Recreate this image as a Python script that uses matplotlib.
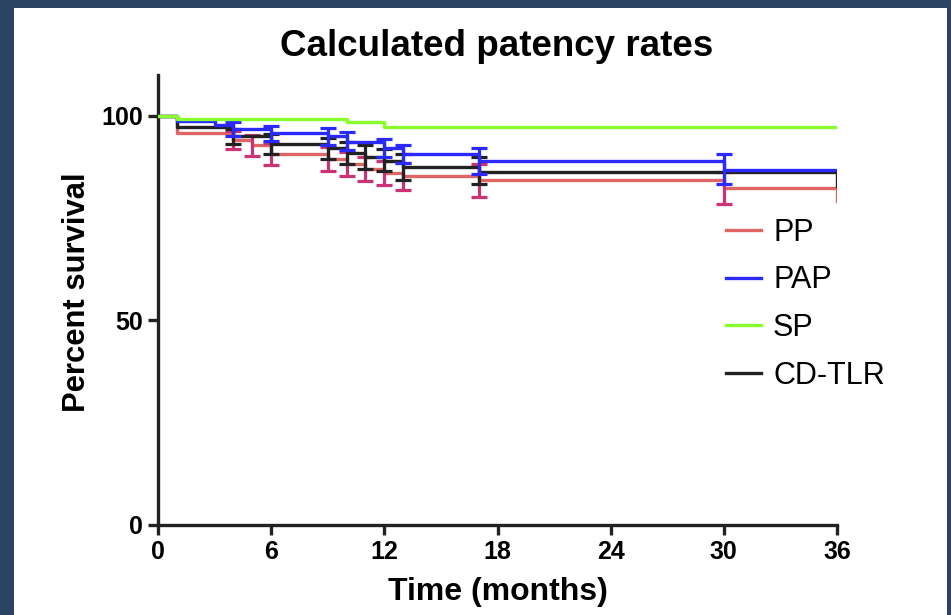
import matplotlib
matplotlib.use("Agg")
import matplotlib.pyplot as plt
from matplotlib.patches import Rectangle
from matplotlib.lines import Line2D

plt.rcParams["font.family"] = ["Liberation Sans", "DejaVu Sans"]

# ---- data ----
pp_t = [0, 1, 4, 5, 6, 9, 10, 11, 12, 13, 17, 30, 36]
pp_v = [100, 95.8, 94.1, 92.8, 90.7, 89.5, 88.2, 87.0, 86.0, 85.2, 84.3, 82.5, 79.2]
pp_bar_t = [4, 5, 6, 9, 10, 11, 12, 13, 17, 30]
pp_bar_v = [94.1, 92.8, 90.7, 89.5, 88.2, 87.0, 86.0, 85.2, 84.2, 82.3]
pp_bar_e = [2.3, 2.5, 2.8, 3.0, 3.0, 3.0, 3.0, 3.2, 4.0, 3.9]

pap_t = [0, 1, 3, 4, 6, 9, 10, 12, 13, 17, 30, 36]
pap_v = [100, 98.8, 97.9, 96.8, 95.8, 95.0, 93.7, 92.1, 90.6, 89.0, 86.9, 86.9]
pap_bar_t = [4, 6, 9, 10, 12, 13, 17, 30]
pap_bar_v = [96.8, 95.7, 95.0, 93.8, 92.1, 90.7, 89.0, 87.0]
pap_bar_e = [1.6, 1.9, 2.0, 2.2, 2.2, 2.3, 3.2, 3.7]

sp_t = [0, 1, 10, 12, 36]
sp_v = [100, 99.2, 98.4, 97.4, 97.4]

cd_t = [0, 1, 4, 6, 9, 10, 11, 12, 13, 17, 36]
cd_v = [100, 97.3, 95.0, 93.2, 92.1, 91.0, 90.0, 89.1, 87.6, 86.4, 82.9]
cd_bar_t = [4, 6, 9, 10, 11, 12, 13, 17]
cd_bar_v = [95.0, 93.1, 92.1, 91.0, 90.0, 89.2, 87.5, 86.7]
cd_bar_e = [1.8, 2.4, 2.6, 2.7, 2.9, 2.7, 3.2, 3.3]

x_ticks = [0, 6, 12, 18, 24, 30, 36]
y_ticks = [0, 50, 100]
legend_labels = ["PP", "PAP", "SP", "CD-TLR"]

# ---- figure ----
fig = plt.figure(figsize=(9.51, 6.15), dpi=100)
fig.patch.set_facecolor("#2b4263")
fig.patches.append(Rectangle((14 / 951, 0), (947 - 14) / 951, 1 - 8 / 615,
                             transform=fig.transFigure, facecolor="white",
                             edgecolor="none", zorder=-10))

ax = fig.add_axes([158 / 951, 1 - 525 / 615, (837 - 158) / 951, (525 - 75) / 615])
ax.set_facecolor("none")
ax.set_zorder(5)

red = "#e06666"
red_bar = "#cc3377"
blue = "#2a2aff"
green = "#88ff2a"
black = "#222222"
lw = 2.4
elw = 2.3

ax.step(pp_t, pp_v, where="post", color=red, lw=lw, zorder=3)
ax.errorbar(pp_bar_t, pp_bar_v, yerr=pp_bar_e, fmt="none", ecolor=red_bar,
            elinewidth=elw, capsize=6, capthick=elw, zorder=3)
ax.step(cd_t, cd_v, where="post", color=black, lw=lw, zorder=4)
ax.errorbar(cd_bar_t, cd_bar_v, yerr=cd_bar_e, fmt="none", ecolor=black,
            elinewidth=elw, capsize=6, capthick=elw, zorder=4)
ax.step(pap_t, pap_v, where="post", color=blue, lw=lw, zorder=5)
ax.errorbar(pap_bar_t, pap_bar_v, yerr=pap_bar_e, fmt="none", ecolor=blue,
            elinewidth=elw, capsize=6, capthick=elw, zorder=5)
ax.step(sp_t, sp_v, where="post", color=green, lw=lw, zorder=6)

handles = [Line2D([], [], color=c, lw=2.4) for c in (red, blue, green, black)]
ax.legend(handles, legend_labels, loc="upper left", bbox_to_anchor=(0.818, 0.71),
          frameon=False, fontsize=22, handlelength=1.15, handletextpad=0.4,
          labelspacing=0.58, borderaxespad=0)

ax.set_xlim(0, 36)
ax.set_ylim(0, 110)
ax.set_xticks(x_ticks)
ax.set_yticks(y_ticks)
for s in ["top", "right"]:
    ax.spines[s].set_visible(False)
for s in ["left", "bottom"]:
    ax.spines[s].set_linewidth(2.4)
    ax.spines[s].set_color("#222222")
ax.tick_params(axis="both", direction="out", length=7, width=2.4, color="#222222",
               labelsize=18, pad=4)
for lab in ax.get_xticklabels() + ax.get_yticklabels():
    lab.set_fontweight("bold")

ax.set_xlabel("Time (months)", fontsize=23, fontweight="bold", labelpad=9)
ax.set_ylabel("Percent survival", fontsize=22.3, fontweight="bold")
ax.yaxis.set_label_coords(-0.097, 0.517)

fig.text(497 / 951, 1 - 46 / 615, "Calculated patency rates", fontsize=26.5,
         fontweight="bold", ha="center", va="center")

fig.savefig("out.png", dpi=100, facecolor=fig.get_facecolor())
